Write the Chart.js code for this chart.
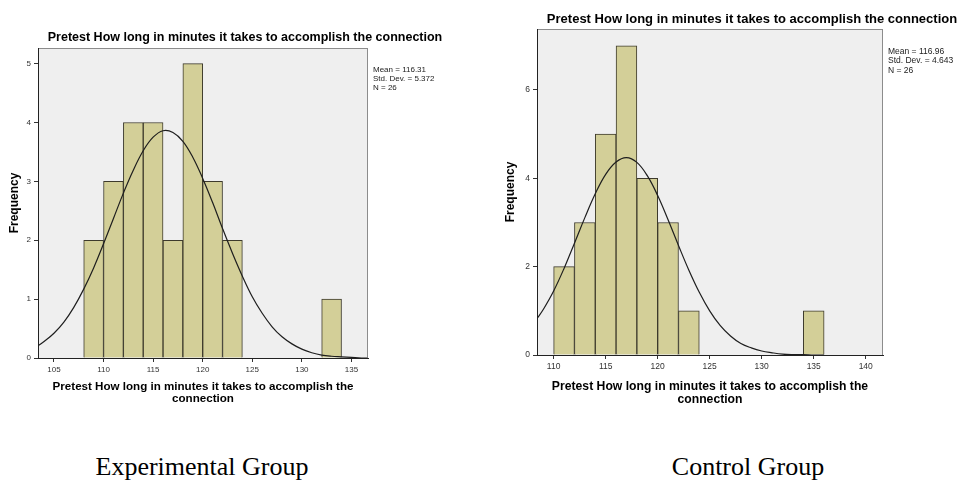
<!DOCTYPE html>
<html>
  <head>
    <title>Pretest histograms</title>
    <script src="https://cdn.jsdelivr.net/npm/chart.js"></script>
    <style>
      body {
        margin: 0;
        width: 962px;
        height: 480px;
        background: #fff;
        position: relative;
        overflow: hidden;
      }
      canvas {
        position: absolute;
        top: 0;
      }
      #expChart { left: 0; }
      #ctlChart { left: 490px; }
      .caption {
        position: absolute;
        top: 454px;
        width: 400px;
        text-align: center;
        font-family: "Liberation Serif", "Times New Roman", serif;
        font-size: 26px;
        line-height: 26px;
        color: #000;
      }
    </style>
  </head>
  <body>
    <canvas id="expChart" width="480" height="420"></canvas>
    <canvas id="ctlChart" width="472" height="420"></canvas>
    <div class="caption" style="left: 2px;">Experimental Group</div>
    <div class="caption" style="left: 548px;">Control Group</div>

    <script>
      // Experimental group: bins of 2 minutes (midpoints) and counts
      const expBinMid = [109, 111, 113, 115, 117, 119, 121, 123, 133];
      const expFreq = [2, 3, 4, 4, 2, 5, 3, 2, 1];
      // normal curve
      const expCurveX = [103.4, 104, 105, 106, 107, 108, 109, 110, 111, 112, 113, 114, 115, 116, 117, 118, 119, 120,
        121, 122, 123, 124, 125, 126, 127, 128, 129, 130, 131, 132, 133, 134, 135, 136, 136.6];
      const expCurveY = [0.21, 0.28, 0.42, 0.61, 0.86, 1.17, 1.53, 1.94, 2.37, 2.80, 3.19, 3.52, 3.75, 3.86, 3.83, 3.68, 3.41, 3.05,
        2.64, 2.20, 1.78, 1.39, 1.04, 0.76, 0.53, 0.36, 0.24, 0.15, 0.09, 0.05, 0.03, 0.02, 0.01, 0.00, 0.00];
      const expTicksX = [105, 110, 115, 120, 125, 130, 135];
      const expTicksY = [0, 1, 2, 3, 4, 5];
      const expStats = ['Mean = 116.31', 'Std. Dev. = 5.372', 'N = 26'];

      // Control group
      const ctlBinMid = [111, 113, 115, 117, 119, 121, 123, 135];
      const ctlFreq = [2, 3, 5, 7, 4, 3, 1, 1];
      const ctlCurveX = [108.4, 109, 110, 111, 112, 113, 114, 115, 116, 117, 118, 119, 120, 121, 122, 123, 124, 125,
        126, 127, 128, 129, 130, 131, 132, 133, 134, 135, 136];
      const ctlCurveY = [0.82, 1.03, 1.45, 1.96, 2.53, 3.11, 3.65, 4.09, 4.37, 4.47, 4.36, 4.06, 3.61, 3.06, 2.48, 1.92, 1.42, 1.00,
        0.67, 0.43, 0.26, 0.16, 0.09, 0.05, 0.02, 0.01, 0.01, 0.00, 0.00];
      const ctlTicksX = [110, 115, 120, 125, 130, 135, 140];
      const ctlTicksY = [0, 2, 4, 6];
      const ctlStats = ['Mean = 116.96', 'Std. Dev. = 4.643', 'N = 26'];

      const chartTitle = 'Pretest How long in minutes it takes to accomplish the connection';
      const xTitle = ['Pretest How long in minutes it takes to accomplish the', 'connection'];
      const FONT = 'Arial, "Liberation Sans", sans-serif';

      // gray plot background + frame, SPSS style title and stats box
      const spssFrame = {
        id: 'spssFrame',
        beforeDraw(chart, args, opts) {
          const { ctx, chartArea: a } = chart;
          ctx.save();
          ctx.fillStyle = '#efefef';
          ctx.fillRect(a.left, a.top, a.width, a.height);
          ctx.strokeStyle = '#8c8c8c';
          ctx.lineWidth = 1;
          ctx.strokeRect(a.left + 0.5, a.top + 0.5, a.width - 1, a.height);
          ctx.restore();
        },
        afterDraw(chart, args, opts) {
          const { ctx, chartArea: a } = chart;
          ctx.save();
          ctx.fillStyle = '#000';
          ctx.textBaseline = 'middle';
          ctx.textAlign = 'center';
          ctx.font = 'bold ' + opts.titleSize + 'px ' + FONT;
          ctx.fillText(opts.title, (a.left + a.right) / 2 + 42, a.top - 10);
          ctx.textAlign = 'left';
          ctx.fillStyle = '#222';
          ctx.font = opts.statSize + 'px ' + FONT;
          opts.stats.forEach((line, i) => {
            ctx.fillText(line, a.right + 5, a.top + opts.statTop + i * opts.statGap);
          });
          ctx.restore();
        }
      };

      function makeHistogram(id, cfg) {
        const bars = cfg.mids.map((m, i) => ({ x: m, y: cfg.freq[i] }));
        const curve = cfg.curveX.map((x, i) => ({ x: x, y: cfg.curveY[i] }));
        return new Chart(document.getElementById(id), {
          data: {
            datasets: [
              {
                type: 'line',
                data: curve,
                borderColor: '#1e1e1e',
                borderWidth: 1.2,
                pointRadius: 0,
                tension: 0.4,
                order: 0
              },
              {
                type: 'bar',
                data: bars,
                backgroundColor: '#d3cf98',
                borderColor: '#3d3a2c',
                borderWidth: { top: 1, left: 1, right: 1, bottom: 0 },
                borderSkipped: false,
                barPercentage: 1.0,
                categoryPercentage: 1.0,
                order: 1
              }
            ]
          },
          options: {
            responsive: false,
            animation: false,
            layout: { padding: { top: cfg.padTop, right: cfg.padRight, left: 0, bottom: 0 } },
            plugins: {
              legend: { display: false },
              tooltip: { enabled: false },
              spssFrame: {
                title: chartTitle,
                titleSize: cfg.titleSize,
                stats: cfg.stats,
                statSize: cfg.statSize,
                statTop: cfg.statTop,
                statGap: cfg.statGap
              }
            },
            scales: {
              x: {
                type: 'linear',
                offset: false,
                min: cfg.xMin,
                max: cfg.xMax,
                afterBuildTicks: (axis) => { axis.ticks = cfg.ticksX.map(v => ({ value: v })); },
                afterFit: (axis) => { axis.height = cfg.xAxisHeight; },
                grid: { display: true, offset: false, drawOnChartArea: false, drawTicks: true, tickLength: 4, color: '#333' },
                border: { display: true, color: '#222', width: 1 },
                ticks: {
                  color: '#333',
                  padding: 3,
                  maxRotation: 0,
                  font: { family: FONT, size: cfg.tickSize }
                },
                title: {
                  display: true,
                  text: xTitle,
                  color: '#000',
                  padding: { top: 0, bottom: cfg.xTitlePad },
                  font: { family: FONT, size: cfg.xTitleSize, weight: 'bold', lineHeight: 1.05 }
                }
              },
              y: {
                type: 'linear',
                min: 0,
                max: cfg.yMax,
                afterBuildTicks: (axis) => { axis.ticks = cfg.ticksY.map(v => ({ value: v })); },
                afterFit: (axis) => { axis.width = cfg.yAxisWidth; },
                grid: { display: true, drawOnChartArea: false, drawTicks: true, tickLength: 4, color: '#333' },
                border: { display: true, color: '#222', width: 1 },
                ticks: {
                  color: '#333',
                  padding: 3,
                  font: { family: FONT, size: cfg.tickSize }
                },
                title: {
                  display: true,
                  text: 'Frequency',
                  color: '#000',
                  padding: { top: cfg.yTitlePad, bottom: 0 },
                  font: { family: FONT, size: 12, weight: 'bold', lineHeight: 1.2 }
                }
              }
            }
          },
          plugins: [spssFrame]
        });
      }

      document.addEventListener('DOMContentLoaded', function() {
        makeHistogram('expChart', {
          mids: expBinMid, freq: expFreq, curveX: expCurveX, curveY: expCurveY,
          ticksX: expTicksX, ticksY: expTicksY, stats: expStats,
          xMin: 103.39, xMax: 136.67, yMax: 5.265,
          padTop: 48, padRight: 112, xAxisHeight: 62, yAxisWidth: 38,
          titleSize: 12.5, statSize: 8, statTop: 21.6, statGap: 9,
          tickSize: 8, xTitleSize: 11.6, xTitlePad: 15, yTitlePad: 7
        });
        makeHistogram('ctlChart', {
          mids: ctlBinMid, freq: ctlFreq, curveX: ctlCurveX, curveY: ctlCurveY,
          ticksX: ctlTicksX, ticksY: ctlTicksY, stats: ctlStats,
          xMin: 108.4, xMax: 141.66, yMax: 7.38,
          padTop: 29, padRight: 79, xAxisHeight: 65, yAxisWidth: 47,
          titleSize: 13, statSize: 8.5, statTop: 22.7, statGap: 9.3,
          tickSize: 8.5, xTitleSize: 12.2, xTitlePad: 14, yTitlePad: 13.5
        });
      });
    </script>
  </body>
</html>
